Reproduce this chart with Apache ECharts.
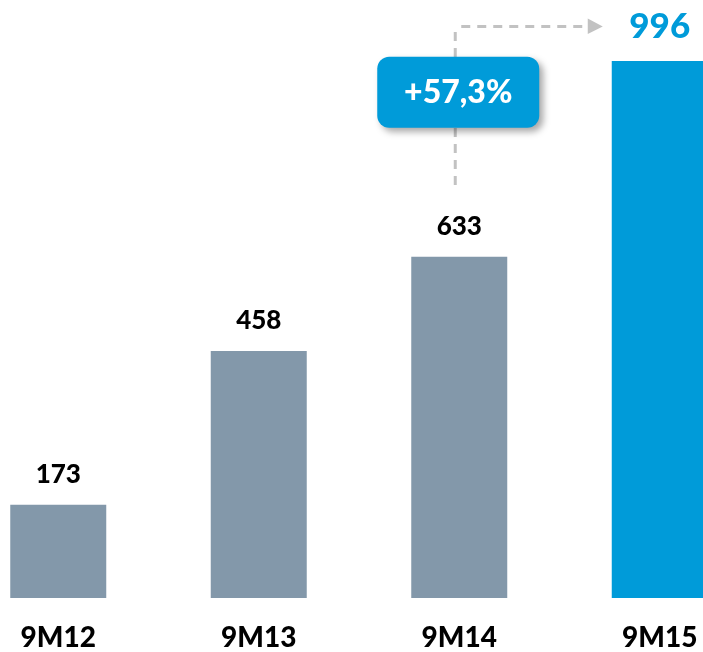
<!DOCTYPE html>
<html>
<head>
<meta charset="utf-8">
<script src="https://cdn.jsdelivr.net/npm/echarts@6/dist/echarts.min.js"></script>
<style>
html,body{margin:0;padding:0;background:#fff;}
#chart{width:703px;height:652px;}
</style>
</head>
<body>
<div id="chart"></div>
<script>
const categories = ['9M12', '9M13', '9M14', '9M15'];
const values = [173, 458, 633, 996];
const growthLabel = '+57,3%';

const GRAY = '#8398AA';
const BLUE = '#009BD9';
const FONT = 'Lato';
const WEIGHT = 900;

const chart = echarts.init(document.getElementById('chart'), null, {renderer: 'canvas'});

const seriesData = values.map((v, i) => {
  const last = i === values.length - 1;
  return {
    value: v,
    itemStyle: {color: last ? BLUE : GRAY},
    label: last ? {color: BLUE, fontSize: 35, distance: 17} : {color: '#000', fontSize: 26, distance: 17}
  };
});

chart.setOption({
  animation: false,
  grid: {left: 58.25, right: 43.25, top: 5, bottom: 54, containLabel: false},
  xAxis: {
    type: 'category',
    data: categories,
    boundaryGap: false,
    axisLine: {show: false},
    axisTick: {show: false},
    splitLine: {show: false},
    axisLabel: {
      margin: 26,
      color: '#000',
      fontFamily: FONT,
      fontWeight: WEIGHT,
      fontSize: 28,
      interval: 0
    }
  },
  yAxis: {
    type: 'value',
    min: 0,
    max: 1100,
    show: false,
    splitLine: {show: false}
  },
  series: [{
    type: 'bar',
    data: seriesData,
    barWidth: 96,
    clip: false,
    label: {
      show: true,
      position: 'top',
      fontFamily: FONT,
      fontWeight: WEIGHT
    }
  }]
});

// Annotation positioned relative to the axes
const x3 = chart.convertToPixel({xAxisIndex: 0}, categories[2]);
const x4 = chart.convertToPixel({xAxisIndex: 0}, categories[3]);
const yTop = chart.convertToPixel({yAxisIndex: 0}, 1060);
const yBottom = chart.convertToPixel({yAxisIndex: 0}, 766);
const yBox = chart.convertToPixel({yAxisIndex: 0}, 938);

const lineX = x3 - 4;
const arrowBase = x4 - 72;
const arrowTip = x4 - 57;
const dashStyle = {stroke: '#C2C2C2', lineWidth: 3, lineDash: [9, 7]};

chart.setOption({
  graphic: [
    {
      type: 'line', silent: true, z: 10,
      shape: {x1: lineX, y1: yBottom, x2: lineX, y2: yTop},
      style: dashStyle
    },
    {
      type: 'line', silent: true, z: 10,
      shape: {x1: lineX + 6, y1: yTop, x2: arrowBase, y2: yTop},
      style: dashStyle
    },
    {
      type: 'polygon', silent: true, z: 10,
      shape: {points: [[arrowBase, yTop - 8], [arrowTip, yTop], [arrowBase, yTop + 7.5]]},
      style: {fill: '#C2C2C2'}
    },
    {
      type: 'rect', silent: true, z: 20,
      shape: {x: x3 - 82, y: yBox - 35.5, width: 162, height: 71, r: 12},
      style: {
        fill: BLUE,
        shadowBlur: 7,
        shadowOffsetX: 4,
        shadowOffsetY: 4,
        shadowColor: 'rgba(0,0,0,0.35)'
      }
    },
    {
      type: 'text', silent: true, z: 21,
      x: x3 - 1, y: yBox,
      style: {
        text: growthLabel,
        fill: '#fff',
        font: WEIGHT + ' 32px Lato',
        align: 'center',
        verticalAlign: 'middle'
      }
    }
  ]
});
</script>
</body>
</html>
